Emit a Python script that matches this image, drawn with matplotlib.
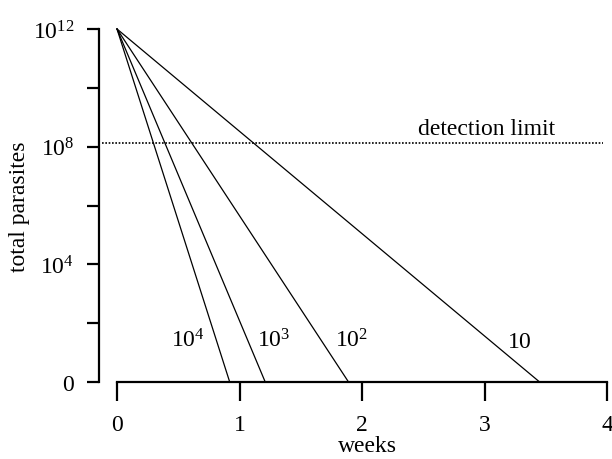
import numpy as np
import matplotlib
matplotlib.use('Agg')
import matplotlib.pyplot as plt

# --- data (log10 of total parasites vs weeks) ---
kill_labels = ['$10^4$', '$10^3$', '$10^2$', '$10$']
start_log = 12.0                       # 10^12 parasites at t = 0
end_weeks = [0.92, 1.21, 1.89, 3.45]   # time at which each line reaches "0"
label_x = [0.72, 1.14, 1.78, 3.18]
label_y = [1.2, 1.2, 1.2, 1.2]
label_ha = ['right', 'left', 'left', 'left']
detect_log = 8.13
ytick_vals = [0, 2, 4, 6, 8, 10, 12]
ytick_text = ['0', '', '$10^4$', '', '$10^8$', '', '$10^{12}$']
xtick_vals = [0, 1, 2, 3, 4]

plt.rcParams['font.family'] = ['Liberation Serif', 'DejaVu Serif']
plt.rcParams['mathtext.fontset'] = 'custom'
plt.rcParams['mathtext.rm'] = 'Liberation Serif'
plt.rcParams['mathtext.it'] = 'Liberation Serif:italic'

fs = 17

fig = plt.figure(figsize=(6.12, 4.6), dpi=100)
ax = fig.add_axes([99 / 612, 77 / 460, 508 / 612, 353 / 460])

for xe in end_weeks:
    ax.plot([0, xe], [start_log, 0], color='black', lw=0.9, clip_on=False)

for txt, x, y, ha in zip(kill_labels, label_x, label_y, label_ha):
    ax.text(x, y, txt, ha=ha, va='baseline', fontsize=fs)

ax.plot([-0.12, 3.97], [detect_log, detect_log], color='black', lw=1.2,
        linestyle=(0, (1, 1.0)))
ax.text(3.02, 8.43, 'detection limit', ha='center', va='baseline', fontsize=fs)

ax.set_xlim(-0.147, 4.0)
ax.set_ylim(0, 12)

for s in ['top', 'right']:
    ax.spines[s].set_visible(False)
ax.spines['left'].set_bounds(0, 12)
ax.spines['bottom'].set_bounds(0, 4)
ax.spines['left'].set_linewidth(1.6)
ax.spines['bottom'].set_linewidth(1.6)
ax.spines['bottom'].set_clip_on(False)

ax.set_yticks(ytick_vals)
ax.set_yticklabels(ytick_text)
ax.set_xticks(xtick_vals)
ax.set_xticklabels([str(v) for v in xtick_vals])
ax.tick_params(axis='y', direction='out', length=9, width=1.6, pad=9, labelsize=fs)
ax.tick_params(axis='x', direction='out', length=14, width=1.6, pad=9, labelsize=fs)

ax.set_xlabel('weeks', fontsize=fs, x=0.528, labelpad=0)
ax.set_ylabel('total parasites', fontsize=fs, labelpad=2)

fig.savefig('out.png', dpi=100)
